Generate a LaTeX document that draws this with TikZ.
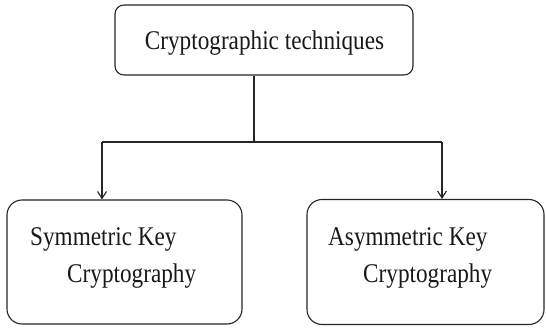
\documentclass[tikz,border=0pt]{standalone}
\usepackage{fontspec}
\setmainfont{Liberation Serif}
\usepackage{graphicx}
\usetikzlibrary{arrows.meta}
\begin{document}
\begin{tikzpicture}[x=1pt,y=-1pt,
  box/.style={draw=black!85, line width=1.1pt, rounded corners=#1, inner sep=0pt},
  lbl/.style={inner sep=0pt, font=\fontsize{27}{30}\selectfont, text=black!90},
  conn/.style={draw=black!85, line width=1.1pt},
  arr/.style={conn, -{Straight Barb[length=7pt,width=9pt]}}]
\useasboundingbox (0,0) rectangle (546,329);
\fill[white] (0,0) rectangle (546,329);
% boxes
\node[box=9pt, minimum width=298pt, minimum height=70pt] (top) at (264,40) {};
\node[box=15pt, minimum width=235pt, minimum height=124pt] (left) at (124.5,262) {};
\node[box=15pt, minimum width=237pt, minimum height=125pt] (right) at (425.5,262) {};
% texts
\node[lbl, anchor=base] (ttop) at (264.5,50) {\scalebox{0.86}[1]{Cryptographic techniques}};
\node[lbl, anchor=base west] (l1) at (30,245) {\scalebox{0.86}[1]{Symmetric Key}};
\node[lbl, anchor=base west] (l2) at (67,282) {\scalebox{0.86}[1]{Cryptography}};
\node[lbl, anchor=base west] (r1) at (328,245) {\scalebox{0.86}[1]{Asymmetric Key}};
\node[lbl, anchor=base west] (r2) at (363,282) {\scalebox{0.86}[1]{Cryptography}};
% connectors
\coordinate (s) at ([xshift=-10pt]top.south);
\coordinate (j) at (254,142);
\coordinate (jl) at (102,142);
\coordinate (jr) at (442,142);
\draw[conn] (s) -- (j);
\draw[conn] (jl) -- (jr);
\draw[arr] (jl) -- (left.north -| jl);
\draw[arr] (jr) -- (right.north -| jr);
\end{tikzpicture}
\end{document}
